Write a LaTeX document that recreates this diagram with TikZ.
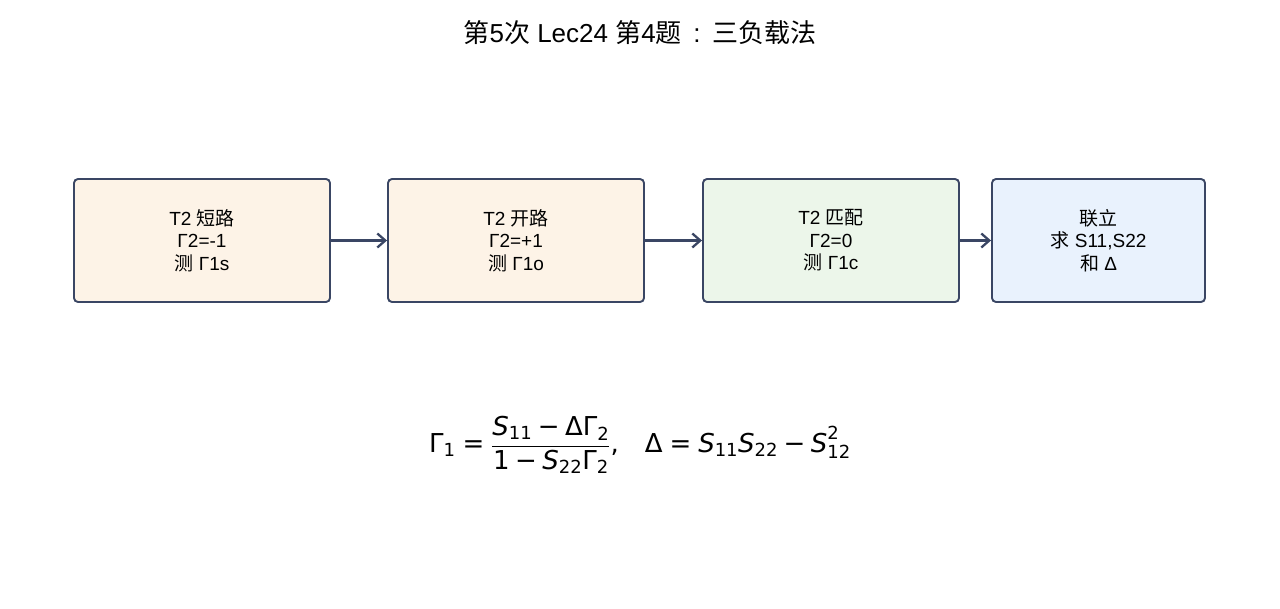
\documentclass[tikz,border=0pt]{standalone}
\usepackage{fontspec}
\setmainfont{Liberation Sans}
\newfontfamily\cjk{Noto Sans CJK SC}
\newfontfamily\dv{DejaVu Sans}
\usetikzlibrary{arrows.meta}
\definecolor{edge}{HTML}{3A4664}
\definecolor{fillA}{HTML}{FDF3E7}
\definecolor{fillB}{HTML}{ECF6EA}
\definecolor{fillC}{HTML}{E9F2FD}
\newcommand\up[1]{\hbox{\dv #1}}
\newcommand\vi[1]{\hbox{\dv\itshape #1}}
\newcommand\lo[1]{_{\hbox{\dv\fontsize{18}{18}\selectfont #1}}}
\newcommand\hi[1]{^{\hbox{\dv\fontsize{18}{18}\selectfont #1}}}
\tikzset{
  stepbox/.style={draw=edge, line width=1.9pt, rounded corners=4pt, align=center,
    font=\fontsize{19}{22.5}\selectfont, inner sep=0pt},
  flow/.style={draw=edge, line width=2.3pt, -{Straight Barb[length=8pt,width=14pt,line width=2.3pt]}}
}
\begin{document}
\begin{tikzpicture}[x=1pt,y=-1pt]
\useasboundingbox (0,0) rectangle (1280,608);
\node (title) at (640,33) {\fontsize{26}{30}\selectfont\cjk 第\rmfamily 5\cjk 次\rmfamily{} Lec24 \cjk 第\rmfamily 4\cjk 题\rmfamily\hspace{0.45em}:\hspace{0.45em}\cjk 三负载法};
\node[stepbox, fill=fillA, minimum width=256pt, minimum height=123pt] (b1) at (202,240.5)
  {T2 {\cjk 短路}\\Γ2=-1\\{\cjk 测} Γ1s};
\node[stepbox, fill=fillA, minimum width=256pt, minimum height=123pt] (b2) at (516,240.5)
  {T2 {\cjk 开路}\\Γ2=+1\\{\cjk 测} Γ1o};
\node[stepbox, fill=fillB, minimum width=256pt, minimum height=123pt] (b3) at (831,240.5)
  {T2 {\cjk 匹配}\\Γ2=0\\{\cjk 测} Γ1c};
\node[stepbox, fill=fillC, minimum width=213pt, minimum height=123pt] (b4) at (1098.5,240.5)
  {{\cjk 联立}\\{\cjk 求} S11,S22\\{\cjk 和} Δ};
\draw[flow] (b1.east) -- (b2.west);
\draw[flow] (b2.east) -- (b3.west);
\draw[flow] (b3.east) -- (b4.west);
\node (eq) at (640,445) {\fontsize{26}{30}\selectfont
 $\displaystyle \up{Γ}\lo{1}\mathrel{\up{=}}\frac{\vi{S}\lo{11}\mathbin{\up{−}}\up{ΔΓ}\lo{2}}{\up{1}\mathbin{\up{−}}\vi{S}\lo{22}\up{Γ}\lo{2}}\up{,}\quad\up{Δ}\mathrel{\up{=}}\vi{S}\lo{11}\vi{S}\lo{22}\mathbin{\up{−}}\vi{S}\lo{12}\hi{2}$};
\end{tikzpicture}
\end{document}
